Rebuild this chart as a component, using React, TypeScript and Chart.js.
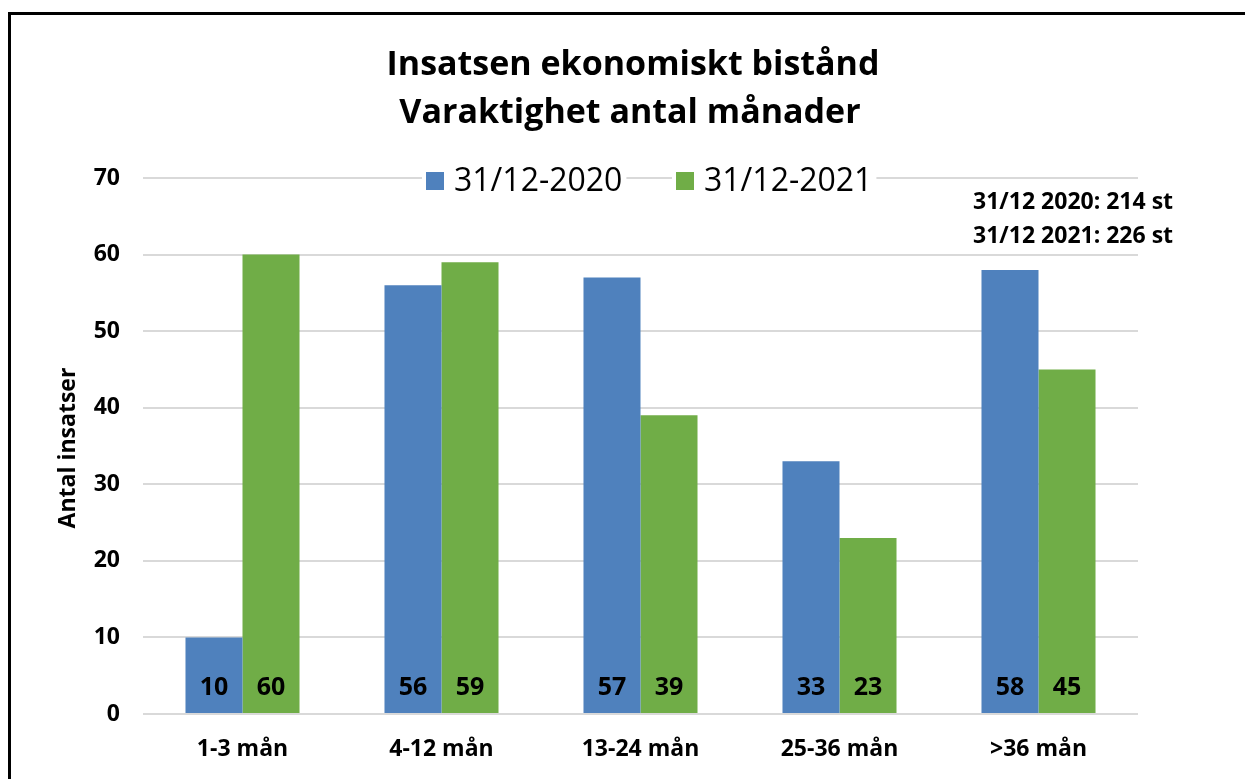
import React, { useEffect, useRef } from "react";
import { Chart, registerables } from "chart.js";

Chart.register(...registerables);

const categories = ["1-3 mån", "4-12 mån", "13-24 mån", "25-36 mån", ">36 mån"];
const series2020 = [10, 56, 57, 33, 58];
const series2021 = [60, 59, 39, 23, 45];
const seriesNames = ["31/12-2020", "31/12-2021"];
const titleLines = ["Insatsen ekonomiskt bistånd", "Varaktighet antal månader"];
const noteLines = ["31/12 2020: 214 st", "31/12 2021: 226 st"];
const yTitle = "Antal insatser";
const colors = ["#4F81BD", "#70AD47"];

const FONT = "'Open Sans', 'DejaVu Sans', sans-serif";
const W = 1245;
const H = 779;

const overlayPlugin = {
  id: "overlay",
  beforeDraw(chart: any) {
    const ctx = chart.ctx;
    ctx.save();
    ctx.fillStyle = "#ffffff";
    ctx.fillRect(0, 0, W, H);
    ctx.fillStyle = "#000000";
    ctx.fillRect(8, 12, W - 8, 3);
    ctx.fillRect(8, 12, 3, H - 12);
    ctx.restore();
  },
  afterDraw(chart: any) {
    const ctx = chart.ctx;
    ctx.save();
    // Title
    ctx.fillStyle = "#000000";
    ctx.textAlign = "center";
    ctx.textBaseline = "middle";
    ctx.font = `bold 34px ${FONT}`;
    ctx.fillText(titleLines[0], 633, 65);
    ctx.fillText(titleLines[1], 630, 113);

    // Legend
    const legendX = [426, 676];
    ctx.font = `32px ${FONT}`;
    ctx.textAlign = "left";
    seriesNames.forEach((name, i) => {
      ctx.fillStyle = "#ffffff";
      const tw = ctx.measureText(name).width;
      ctx.fillRect(legendX[i] - 4, 166, tw + 36, 32);
      ctx.fillStyle = colors[i];
      ctx.fillRect(legendX[i], 172, 18, 18);
      ctx.fillStyle = "#000000";
      ctx.fillText(name, legendX[i] + 28, 182);
    });

    // Note
    ctx.font = `bold 23px ${FONT}`;
    ctx.textAlign = "left";
    ctx.fillText(noteLines[0], 973, 202);
    ctx.fillText(noteLines[1], 973, 236);

    // Y title
    ctx.translate(68, 448);
    ctx.rotate(-Math.PI / 2);
    ctx.textAlign = "center";
    ctx.font = `bold 23px ${FONT}`;
    ctx.fillText(yTitle, 0, 0);
    ctx.restore();

    // Data labels
    ctx.save();
    const yScale = chart.scales.y;
    const base = yScale.getPixelForValue(0);
    ctx.font = `bold 25px ${FONT}`;
    ctx.textAlign = "center";
    ctx.textBaseline = "middle";
    ctx.fillStyle = "#000000";
    chart.data.datasets.forEach((ds: any, di: number) => {
      const meta = chart.getDatasetMeta(di);
      meta.data.forEach((el: any, i: number) => {
        ctx.fillText(String(ds.data[i]), el.x, base - 26);
      });
    });
    ctx.restore();
  },
};

export default function App() {
  const ref = useRef<HTMLCanvasElement | null>(null);
  useEffect(() => {
    if (!ref.current) return;
    const chart = new Chart(ref.current, {
      type: "bar",
      data: {
        labels: categories,
        datasets: [
          { label: seriesNames[0], data: series2020, backgroundColor: colors[0], categoryPercentage: 0.573, barPercentage: 1 },
          { label: seriesNames[1], data: series2021, backgroundColor: colors[1], categoryPercentage: 0.573, barPercentage: 1 },
        ],
      },
      options: {
        responsive: false,
        animation: false,
        devicePixelRatio: 1,
        layout: { padding: { left: 0, right: 107, top: 178, bottom: 0 } },
        plugins: {
          legend: { display: false },
          title: { display: false },
          tooltip: { enabled: false },
        },
        scales: {
          x: {
            grid: { display: false, drawTicks: false },
            border: { display: false },
            ticks: {
              color: "#000000",
              font: { family: FONT, size: 23, weight: "bold" },
              padding: 22,
            },
            afterFit: (s: any) => {
              s.height = H - 714;
            },
          },
          y: {
            min: 0,
            max: 70,
            grid: { color: "#d9d9d9", lineWidth: 2, drawTicks: false },
            border: { display: false },
            ticks: {
              stepSize: 10,
              color: "#000000",
              font: { family: FONT, size: 23, weight: "bold" },
              padding: 23,
            },
            afterFit: (s: any) => {
              s.width = 143;
            },
          },
        },
      },
      plugins: [overlayPlugin],
    });
    return () => chart.destroy();
  }, []);
  return (
    <div style={{ position: "fixed", left: 0, top: 0, width: W, height: H, overflow: "hidden" }}>
      <canvas ref={ref} width={W} height={H} style={{ width: W, height: H, display: "block" }} />
    </div>
  );
}
